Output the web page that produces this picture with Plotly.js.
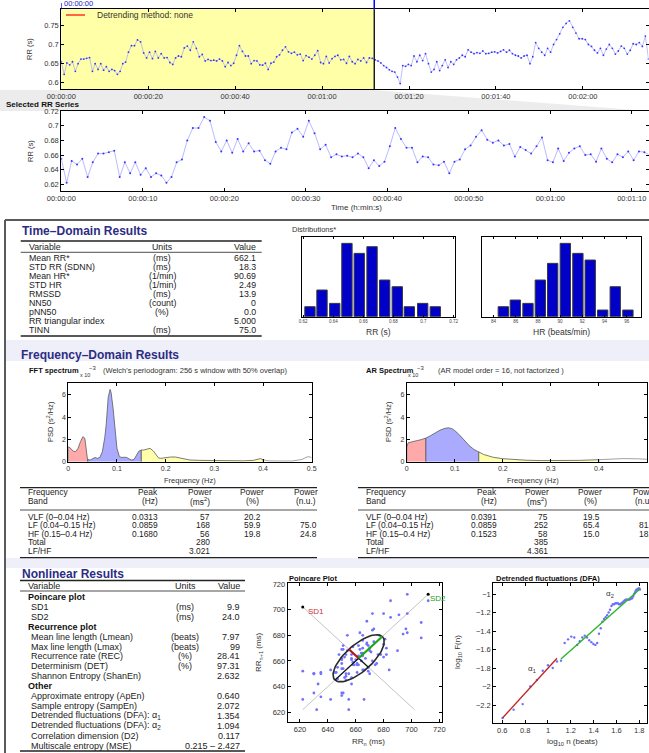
<!DOCTYPE html>
<html>
<head>
<meta charset="utf-8">
<script src="https://cdn.plot.ly/plotly-3.0.1.min.js"></script>
<style>
html,body{margin:0;padding:0;background:#ffffff;overflow:hidden;}
#chart{width:649px;height:753px;}
</style>
</head>
<body>
<div id="chart"></div>
<script>
// ================= DATA =================
const rrSelected = [
 0.655,0.622,0.652,0.647,0.655,0.630,0.650,0.662,0.662,0.664,
 0.666,0.630,0.650,0.635,0.650,0.633,0.642,0.630,0.635,0.632,
 0.622,0.630,0.650,0.654,0.680,0.697,0.697,0.712,0.707,0.678,
 0.665,0.680,0.663,0.682,0.665,0.676,0.665,0.666,0.653,0.648,
 0.665,0.670,0.668,0.691,0.696,0.685,0.707,0.690,0.668,0.674,
 0.657,0.661,0.658,0.659,0.657,0.662,0.657,0.642,0.653,0.645,
 0.651,0.672,0.697,0.682,0.670,0.670,0.650,0.658,0.657,0.647,
 0.646,0.651,0.635,0.651,0.654,0.668,0.673,0.685,0.694,0.681,
 0.677,0.680,0.673,0.675,0.658,0.671,0.667,0.662,0.672,0.684,
 0.653,0.650,0.669,0.652,0.663,0.669,0.672,0.660,0.661,0.651,
 0.669,0.655,0.650,0.661,0.657,0.665,0.653,0.665,0.664,0.660];
const rrRest = [
 0.657,0.652,0.645,0.640,0.634,0.630,0.628,0.615,0.598,0.645,
 0.643,0.648,0.645,0.670,0.655,0.672,0.658,0.676,0.650,0.628,
 0.635,0.655,0.632,0.645,0.660,0.640,0.655,0.648,0.660,0.665,
 0.672,0.668,0.686,0.680,0.676,0.679,0.677,0.683,0.676,0.677,
 0.680,0.681,0.678,0.682,0.686,0.680,0.685,0.676,0.672,0.670,
 0.665,0.670,0.672,0.650,0.668,0.705,0.690,0.680,0.672,0.690,
 0.680,0.700,0.713,0.728,0.745,0.755,0.762,0.745,0.730,0.715,
 0.715,0.713,0.700,0.695,0.685,0.678,0.690,0.672,0.688,0.700,
 0.690,0.675,0.683,0.696,0.690,0.675,0.685,0.702,0.700,0.705,
 0.695,0.722,0.662];
const selectionEnd = 72.0; // seconds
const overviewTickVals = [0,20,40,60,80,100,120];
const overviewTickText = ['00:00:00','00:00:20','00:00:40','00:01:00','00:01:20','00:01:40','00:02:00'];
const overviewYTicks = [0.6,0.65,0.7,0.75];
const overviewYText = ['0.6','0.65','0.7','0.75'];
const selectedTickVals = [0,10,20,30,40,50,60,70];
const selectedTickText = ['00:00:00','00:00:10','00:00:20','00:00:30','00:00:40','00:00:50','00:01:00','00:01:10'];
const selectedYTicks = [0.62,0.64,0.66,0.68,0.70,0.72];
const selectedYText = ['0.62','0.64','0.66','0.68','0.7','0.72'];

const tdVariables = ['Mean RR*','STD RR (SDNN)','Mean HR*','STD HR','RMSSD','NN50','pNN50','RR triangular index','TINN'];
const tdUnits = ['(ms)','(ms)','(1/min)','(1/min)','(ms)','(count)','(%)','','(ms)'];
const tdValues = ['662.1','18.3','90.69','2.49','13.9','0','0.0','5.000','75.0'];

const rrBinCenters = [0.6245,0.6325,0.6410,0.6491,0.6573,0.6658,0.6742,0.6826,0.6906,0.6995,0.7079];
const rrBinCounts = [3,8,4,22,19,21,11,9,3,4,3];
const rrHistTickVals = [0.62,0.64,0.66,0.68,0.70,0.72];
const rrHistTickText = ['0.62','0.64','0.66','0.68','0.7','0.72'];
const hrBinCenters = [84.89,85.97,87.11,88.22,89.33,90.47,91.60,92.71,93.83,94.96,96.10];
const hrBinCounts = [3,5,4,11,16,22,19,17,2,9,2];
const hrHistTickVals = [84,86,88,90,92,94,96];
const hrHistTickText = ['84','86','88','90','92','94','96'];

const fftFreq = [0,0.005,0.01,0.015,0.02,0.025,0.03,0.034,0.037,0.04,
 0.045,0.05,0.055,0.06,0.065,0.07,0.075,0.078,0.082,0.0859,0.088,0.092,0.095,0.1,0.105,
 0.11,0.115,0.12,0.125,0.13,0.135,0.14,0.145,0.15,
 0.155,0.16,0.168,0.175,0.18,0.185,0.19,0.2,0.21,0.22,0.23,0.24,0.25,0.27,0.3,0.33,0.36,0.38,0.39,0.395,0.4,
 0.41,0.43,0.46,0.48,0.49,0.495,0.5];
const fftPsd = [1.35,1.2,0.95,0.9,1.2,1.8,2.25,2.1,1.2,0.2,
 0.15,0.3,0.38,0.3,0.4,0.9,2.2,3.4,5.8,6.5,6.2,4.8,3.4,1.2,0.45,
 0.38,0.4,0.38,0.25,0.15,0.2,0.55,0.95,1.05,
 1.05,1.1,1.2,0.95,0.6,0.35,0.3,0.38,0.42,0.42,0.35,0.22,0.15,0.12,0.1,0.1,0.08,0.12,0.25,0.28,0.18,
 0.08,0.06,0.06,0.2,0.42,0.45,0.35];
const arFreq = [0,0.003,0.01,0.02,0.03,0.04,0.05,0.06,0.07,0.08,0.087,0.095,0.1,0.11,0.12,0.13,0.14,0.15,
 0.16,0.17,0.18,0.2,0.22,0.25,0.28,0.3,0.33,0.36,0.38,0.4,0.42,0.45,0.48,0.5];
const arPsd = [1.3,1.7,1.8,1.88,1.98,2.12,2.35,2.62,2.85,3.0,3.05,2.95,2.8,2.4,1.9,1.45,1.1,0.88,
 0.65,0.5,0.4,0.27,0.2,0.13,0.1,0.09,0.1,0.12,0.15,0.18,0.24,0.28,0.26,0.22];
const bandLimits = [0,0.04,0.15,0.4,0.5];
const bandFill = ['#ffaaaa','#aaaaff','#ffffaa'];
const freqTickVals = [0,0.1,0.2,0.3,0.4,0.5];
const freqTickText = ['0','0.1','0.2','0.3','0.4','0.5'];
const psdTickVals = [0,2,4,6];

const bandNames = ['VLF (0–0.04 Hz)','LF (0.04–0.15 Hz)','HF (0.15–0.4 Hz)','Total','LF/HF'];
const fftPeak = ['0.0313','0.0859','0.1680','',''];
const fftPowerMs2 = ['57','168','56','280','3.021'];
const fftPowerPct = ['20.2','59.9','19.8','',''];
const fftPowerNu = ['','75.0','24.8','',''];
const arPeak = ['0.0391','0.0859','0.1523','',''];
const arPowerMs2 = ['75','252','58','385','4.361'];
const arPowerPct = ['19.5','65.4','15.0','',''];
const arPowerNu = ['','81.3','18.7','',''];

const nlVariables = ['Poincare plot','SD1','SD2','Recurrence plot','Mean line length (Lmean)','Max line length (Lmax)',
 'Recurrence rate (REC)','Determinism (DET)','Shannon Entropy (ShanEn)','Other','Approximate entropy (ApEn)',
 'Sample entropy (SampEn)','Detrended fluctuations (DFA): α<sub>1</sub>','Detrended fluctuations (DFA): α<sub>2</sub>',
 'Correlation dimension (D2)','Multiscale entropy (MSE)'];
const nlUnits = ['','(ms)','(ms)','','(beats)','(beats)','(%)','(%)','','','','','','','',''];
const nlValues = ['','9.9','24.0','','7.97','99','28.41','97.31','2.632','','0.640','2.072','1.354','1.094','0.117','0.215 – 2.427'];
const nlGroupRows = [0,3,9];

const meanRRms = 662.1, sd1 = 9.9, sd2 = 24.0;
const poincareTicks = [620,640,660,680,700,720];

const dfaN = [4,5,6,7,8,9,10,11,12,13,14,15,16,17,18,19,20,21,22,23,24,25,26,27,28,29,30,31,32,33,34,
 35,36,37,38,39,40,41,42,43,44,45,46,47,48,49,50,51,52,53,54,55,56,57,58,59,60,61,62,63,64];
const dfaLogF = [-2.34,-2.25,-2.19,-2.00,-1.93,-1.83,-1.77,-1.80,-1.73,-1.72,-1.53,-1.49,-1.46,-1.47,-1.55,
 -1.51,-1.47,-1.45,-1.47,-1.50,-1.52,-1.54,-1.55,-1.53,-1.43,-1.37,-1.30,-1.27,-1.25,-1.23,-1.20,
 -1.17,-1.13,-1.11,-1.11,-1.10,-1.10,-1.10,-1.11,-1.11,-1.10,-1.09,-1.08,-1.07,-1.06,-1.06,-1.06,
 -1.06,-1.06,-1.05,-1.05,-1.04,-1.02,-1.00,-0.98,-0.96,-0.95,-0.95,-0.94,-0.94,-0.95];
const dfaAlpha1 = 1.354, dfaAlpha2 = 1.094;
const dfaIntercept1 = -3.155, dfaIntercept2 = -2.921;
const dfaShortRange = [4,12], dfaLongRange = [13,64];
const dfaXTicks = [0.6,0.8,1,1.2,1.4,1.6,1.8];
const dfaXText = ['0.6','0.8','1','1.2','1.4','1.6','1.8'];
const dfaYTicks = [-2.2,-2,-1.8,-1.6,-1.4,-1.2,-1];
const dfaYText = ['−2.2','−2','−1.8','−1.6','−1.4','−1.2','−1'];

// ================= HELPERS =================
const W = 649, H = 753;
const F = 'Liberation Sans, Arial, Helvetica, sans-serif';
const NAVY = '#2c2c84';
const TXT = '#222';
const xd = (a,b) => [a/W, b/W];
const yd = (top,bot) => [1-bot/H, 1-top/H];
const ann = [], shp = [];
function T(x, y, text, o) {
  o = o || {};
  if (text === '' || text == null) return;
  ann.push({xref:'paper', yref:'paper', x:x/W, y:1-y/H, text: o.bold ? '<b>'+text+'</b>' : text,
    showarrow:false, xanchor:o.anchor||'left', yanchor:'middle', textangle:o.angle||0, borderpad:0,
    font:{family:F, size:o.size||9, color:o.color||TXT}});
}
function L(x0,y0,x1,y1,color,width){
  shp.push({type:'line', xref:'paper', yref:'paper', x0:x0/W, y0:1-y0/H, x1:x1/W, y1:1-y1/H,
    line:{color:color||'#000', width:width||1}});
}
function R(x0,y0,x1,y1,fill){
  shp.push({type:'rect', xref:'paper', yref:'paper', x0:x0/W, y0:1-y0/H, x1:x1/W, y1:1-y1/H,
    fillcolor:fill, line:{width:0}, layer:'below'});
}
function axis(o){
  return Object.assign({showline:true, linecolor:'#000', linewidth:1, mirror:'allticks', ticks:'inside',
    ticklen:3, tickwidth:1, tickcolor:'#000', showgrid:false, zeroline:false, fixedrange:true,
    automargin:false, tickmode:'array', tickfont:{family:F, size:7.5, color:'#333'}}, o);
}

// ================= TRACES =================
const rrAll = rrSelected.concat(rrRest);
const tAll = []; let acc = 0;
for (const r of rrAll) { tAll.push(acc); acc += r; }
const tSel = tAll.slice(0, rrSelected.length);

const traces = [];
traces.push({type:'scatter', mode:'lines+markers', x:tAll, y:rrAll, xaxis:'x', yaxis:'y',
  line:{color:'#a3a3f5', width:0.7}, marker:{size:1.8, color:'#3535ff'}, hoverinfo:'skip'});
traces.push({type:'scatter', mode:'lines+markers', x:tSel, y:rrSelected, xaxis:'x2', yaxis:'y2',
  line:{color:'#a8a8ff', width:0.8}, marker:{size:2, color:'#3535ff'}, hoverinfo:'skip'});

// histograms
traces.push({type:'bar', x:rrBinCenters, y:rrBinCounts, xaxis:'x3', yaxis:'y3',
  marker:{color:'#0000c8', line:{color:'#3a3a3a', width:1}}, hoverinfo:'skip'});
traces.push({type:'bar', x:hrBinCenters, y:hrBinCounts, xaxis:'x4', yaxis:'y4',
  marker:{color:'#0000c8', line:{color:'#3a3a3a', width:1}}, hoverinfo:'skip'});

// spectra
function bandTraces(freq, psd, xa, ya) {
  for (let b = 0; b < 4; b++) {
    const lo = bandLimits[b], hi = bandLimits[b+1];
    const xs = [], ys = [];
    if (b < 3) { xs.push(lo); ys.push(0); }
    for (let i = 0; i < freq.length; i++) if (freq[i] >= lo && freq[i] <= hi) { xs.push(freq[i]); ys.push(psd[i]); }
    if (b < 3) { xs.push(hi); ys.push(0); }
    if (b < 3) {
      traces.push({type:'scatter', mode:'lines', x:xs, y:ys, xaxis:xa, yaxis:ya, fill:'toself',
        fillcolor:bandFill[b], line:{color:'#5a5a5a', width:0.8}, hoverinfo:'skip'});
    } else {
      traces.push({type:'scatter', mode:'lines', x:xs, y:ys, xaxis:xa, yaxis:ya,
        line:{color:'#8a8a8a', width:0.8}, hoverinfo:'skip'});
    }
  }
}
bandTraces(fftFreq, fftPsd, 'x5', 'y5');
bandTraces(arFreq, arPsd, 'x6', 'y6');

// Poincare
const pX = rrSelected.slice(0,-1).map(v => v*1000);
const pY = rrSelected.slice(1).map(v => v*1000);
const rrMin = Math.min(...rrSelected)*1000, rrMax = Math.max(...rrSelected)*1000;
const c = meanRRms, s2 = Math.SQRT1_2;
traces.push({type:'scatter', mode:'lines', x:[rrMin, rrMax], y:[rrMin, rrMax], xaxis:'x7', yaxis:'y7',
  line:{color:'#c4c4c4', width:1}, hoverinfo:'skip'});
traces.push({type:'scatter', mode:'lines', x:[rrMin, 2*c-rrMin], y:[2*c-rrMin, rrMin], xaxis:'x7', yaxis:'y7',
  line:{color:'#c4c4c4', width:1}, hoverinfo:'skip'});
traces.push({type:'scatter', mode:'markers', x:pX, y:pY, xaxis:'x7', yaxis:'y7',
  marker:{size:2.8, color:'#7272ff'}, hoverinfo:'skip'});
const ex = [], ey = [];
for (let k = 0; k <= 72; k++) {
  const t = 2*Math.PI*k/72, u = sd2*Math.cos(t), v = sd1*Math.sin(t);
  ex.push(c + (u - v)*s2); ey.push(c + (u + v)*s2);
}
traces.push({type:'scatter', mode:'lines', x:ex, y:ey, xaxis:'x7', yaxis:'y7',
  line:{color:'#2a2a2a', width:1.6}, hoverinfo:'skip'});
traces.push({type:'scatter', mode:'lines', x:[c-sd2*s2, c], y:[c-sd2*s2, c], xaxis:'x7', yaxis:'y7',
  line:{color:'#111', width:1.2}, hoverinfo:'skip'});
traces.push({type:'scatter', mode:'lines', x:[c, c+sd1*s2], y:[c, c-sd1*s2], xaxis:'x7', yaxis:'y7',
  line:{color:'#111', width:1.2}, hoverinfo:'skip'});
traces.push({type:'scatter', mode:'lines', x:[c, c-sd1*s2], y:[c, c+sd1*s2], xaxis:'x7', yaxis:'y7',
  line:{color:'#b01818', width:2.2}, hoverinfo:'skip'});
traces.push({type:'scatter', mode:'lines', x:[c, c+sd2*s2], y:[c, c+sd2*s2], xaxis:'x7', yaxis:'y7',
  line:{color:'#18a818', width:2.2}, hoverinfo:'skip'});
traces.push({type:'scatter', mode:'markers', x:[rrMin, rrMax], y:[2*c-rrMin, rrMax], xaxis:'x7', yaxis:'y7',
  marker:{size:3, color:'#000'}, hoverinfo:'skip'});

// DFA
const dfaLogN = dfaN.map(n => Math.log10(n));
traces.push({type:'scatter', mode:'markers', x:dfaLogN, y:dfaLogF, xaxis:'x8', yaxis:'y8',
  marker:{size:2.4, color:'#6e6eff'}, hoverinfo:'skip'});
const l1 = dfaShortRange.map(n => Math.log10(n)), l2 = dfaLongRange.map(n => Math.log10(n));
traces.push({type:'scatter', mode:'lines', x:l1, y:l1.map(v => dfaIntercept1 + dfaAlpha1*v), xaxis:'x8', yaxis:'y8',
  line:{color:'#c02828', width:1.4}, hoverinfo:'skip'});
traces.push({type:'scatter', mode:'lines', x:l2, y:l2.map(v => dfaIntercept2 + dfaAlpha2*v), xaxis:'x8', yaxis:'y8',
  line:{color:'#2ab52a', width:1.4}, hoverinfo:'skip'});

// ================= LAYOUT =================
const ovL = 61.3, ovR = 648.5, ovRange = [0, 135.1];
const selPx = ovL + (selectionEnd - ovRange[0])/(ovRange[1]-ovRange[0])*(ovR-ovL);

// gray zoom wedge between the two RR plots
shp.push({type:'path', xref:'paper', yref:'paper', layer:'below', fillcolor:'#ececec', line:{width:0},
  path:`M 0 ${1-90/H} L ${selPx/W} ${1-90/H} L ${648/W} ${1-111/H} L 0 ${1-111/H} Z`});
// yellow selection
shp.push({type:'rect', xref:'x', yref:'y domain', x0:0, x1:selectionEnd, y0:0, y1:1,
  fillcolor:'#ffffa8', line:{width:0}, layer:'below'});
shp.push({type:'line', xref:'x', yref:'y domain', x0:selectionEnd, x1:selectionEnd, y0:0, y1:1,
  line:{color:'#000', width:1.3}});
shp.push({type:'line', xref:'x', yref:'paper', x0:selectionEnd, x1:selectionEnd, y0:1-9.3/H, y1:1,
  line:{color:'#0000ff', width:1.5}});
shp.push({type:'line', xref:'x', yref:'paper', x0:0, x1:0, y0:1-9.3/H, y1:1-3/H,
  line:{color:'#0000ff', width:1.2}});
T(63, 3.5, '00:00:00', {size:7.5, color:'#2020c0'});
// legend
L(66, 15, 85, 15, '#ff0000', 1.2);
T(96, 15, 'Detrending method: none', {size:8.5, color:'#333'});
T(30, 49, 'RR (s)', {angle:-90, anchor:'center', size:7.5, color:'#333'});
T(5, 104.5, 'Selected RR Series', {bold:true, size:8, color:'#111'});
T(30, 151, 'RR (s)', {angle:-90, anchor:'center', size:7.5, color:'#333'});
T(356, 207.5, 'Time (h:min:s)', {anchor:'center', size:8, color:'#333'});

// section frames
L(5, 220, 649, 220, '#5a5a5a', 2);
L(5, 220, 5, 753, '#5a5a5a', 2);
R(6, 340, 649, 361, '#efeff9');
R(6, 558, 649, 568, '#efeff9');

// ---- Time-domain ----
T(20.7, 231.5, 'Time–Domain Results', {bold:true, size:12, color:NAVY});
L(20.7, 241, 261.7, 241, '#222', 1.3);
T(28, 247, 'Variable', {size:8.8}); T(162, 247, 'Units', {anchor:'center', size:8.8}); T(257, 247, 'Value', {anchor:'right', size:8.8});
L(20.7, 252.3, 261.7, 252.3, '#222', 0.8);
tdVariables.forEach((v,i) => {
  const y = 258.3 + 9*i;
  T(28, y, v, {size:8.8}); T(162, y, tdUnits[i], {anchor:'center', size:8.8}); T(257, y, tdValues[i], {anchor:'right', size:8.8});
});
L(20.7, 336, 261.7, 336, '#222', 1.3);
T(291, 230, 'Distributions*', {size:7.5, color:'#333'});
T(378, 331.5, 'RR (s)', {anchor:'center', size:8.5, color:'#333'});
T(561, 331.5, 'HR (beats/min)', {anchor:'center', size:8.5, color:'#333'});

// ---- Frequency-domain ----
T(20, 355, 'Frequency–Domain Results', {bold:true, size:12, color:NAVY});
T(28, 370, 'FFT spectrum', {bold:true, size:7.5, color:'#111'});
T(79, 374.5, 'x 10', {size:5.5, color:'#333'});
T(88, 367.5, '−3', {size:6, color:'#333'});
T(102, 370, "(Welch's periodogram: 256 s window with 50% overlap)", {size:7.5, color:'#333'});
T(50, 422, 'PSD (s<sup>2</sup>/Hz)', {angle:-90, anchor:'center', size:7.5, color:'#333'});
T(190, 480, 'Frequency (Hz)', {anchor:'center', size:7.5, color:'#333'});
T(365, 370, 'AR Spectrum', {bold:true, size:7.5, color:'#111'});
T(407, 374.5, 'x 10', {size:5.5, color:'#333'});
T(416, 367.5, '−3', {size:6, color:'#333'});
T(437, 370, '(AR model order = 16, not factorized )', {size:7.5, color:'#333'});
T(388, 422, 'PSD (s<sup>2</sup>/Hz)', {angle:-90, anchor:'center', size:7.5, color:'#333'});
T(533, 480, 'Frequency (Hz)', {anchor:'center', size:7.5, color:'#333'});

function freqTable(x0, x1, cols, peak, pow, pct, nu) {
  const hs = 8.4, rs = 8.4;
  L(x0, 487.7, x1, 487.7, '#222', 1.3);
  T(cols[0], 492, 'Frequency', {size:hs}); T(cols[0], 500.5, 'Band', {size:hs});
  T(cols[1], 492, 'Peak', {anchor:'right', size:hs}); T(cols[1], 500.5, '(Hz)', {anchor:'right', size:hs});
  T(cols[2], 492, 'Power', {anchor:'center', size:hs}); T(cols[2], 501.5, '(ms<sup>2</sup>)', {anchor:'center', size:hs});
  T(cols[4], 492, 'Power', {anchor:'center', size:hs}); T(cols[4], 500.5, '(%)', {anchor:'center', size:hs});
  T(cols[6], 492, 'Power', {anchor:'center', size:hs}); T(cols[6], 500.5, '(n.u.)', {anchor:'center', size:hs});
  L(x0, 510, x1, 510, '#222', 0.8);
  bandNames.forEach((b,i) => {
    const y = 516.7 + 8.5*i;
    T(cols[0], y, b, {size:rs}); T(cols[1], y, peak[i], {anchor:'right', size:rs});
    T(cols[3], y, pow[i], {anchor:'right', size:rs}); T(cols[5], y, pct[i], {anchor:'right', size:rs});
    T(cols[7], y, nu[i], {anchor:'right', size:rs});
  });
  L(x0, 557.7, x1, 557.7, '#222', 1.3);
}
freqTable(20, 317, [26.7, 159, 200, 211, 252, 262, 306, 318], fftPeak, fftPowerMs2, fftPowerPct, fftPowerNu);
freqTable(358, 649, [365, 497.7, 537, 549, 590, 600.7, 645, 657], arPeak, arPowerMs2, arPowerPct, arPowerNu);

// ---- Nonlinear ----
T(20.7, 574, 'Nonlinear Results', {bold:true, size:12, color:NAVY});
L(20, 580.5, 245, 580.5, '#222', 1.3);
T(26.7, 586, 'Variable'); T(185, 586, 'Units', {anchor:'center'}); T(241, 586, 'Value', {anchor:'right'});
L(20, 591, 245, 591, '#222', 0.8);
nlVariables.forEach((v,i) => {
  const y = 597 + 9.9*i;
  const grp = nlGroupRows.indexOf(i) >= 0;
  T(grp ? 26.7 : 30, y, v, {bold:grp, color: grp ? '#111' : TXT});
  T(185, y, nlUnits[i], {anchor:'center'});
  T(241, y, nlValues[i], {anchor:'right'});
});
L(20, 751, 245, 751, '#222', 1.3);
T(288.3, 578.3, 'Poincare Plot', {bold:true, size:7.5, color:'#111'});
T(368, 742, 'RR<sub>n</sub> (ms)', {anchor:'center', size:8, color:'#333'});
T(259, 652, 'RR<sub>n+1</sub> (ms)', {angle:-90, anchor:'center', size:8, color:'#333'});
T(495, 578.3, 'Detrended fluctuations (DFA)', {bold:true, size:7.5, color:'#111'});
T(572, 742, 'log<sub>10</sub> n (beats)', {anchor:'center', size:8, color:'#333'});
T(458, 652, 'log<sub>10</sub> F(n)', {angle:-90, anchor:'center', size:8, color:'#333'});

ann.push({xref:'x7', yref:'y7', x:624.5, y:698.5, text:'SD1', showarrow:false, xanchor:'left', yanchor:'middle',
  font:{family:F, size:8, color:'#c83232'}});
ann.push({xref:'x7', yref:'y7', x:712, y:708.5, text:'SD2', showarrow:false, xanchor:'left', yanchor:'middle',
  font:{family:F, size:8, color:'#22a022'}});
ann.push({xref:'x8', yref:'y8', x:0.86, y:-1.81, text:'α<sub>1</sub>', showarrow:false, xanchor:'center', yanchor:'middle',
  font:{family:F, size:8, color:'#333'}});
ann.push({xref:'x8', yref:'y8', x:1.545, y:-1.0, text:'α<sub>2</sub>', showarrow:false, xanchor:'center', yanchor:'middle',
  font:{family:F, size:8, color:'#333'}});

const small = {family:F, size:4.5, color:'#444'};
const fsz = {family:F, size:7, color:'#333'};
const layout = {
  width:W, height:H, margin:{l:0,r:0,t:0,b:0,pad:0}, showlegend:false,
  paper_bgcolor:'#ffffff', plot_bgcolor:'#ffffff', bargap:0.14, dragmode:false, hovermode:false,
  xaxis: axis({domain:xd(ovL,ovR), anchor:'y', range:ovRange, tickvals:overviewTickVals, ticktext:overviewTickText}),
  yaxis: axis({domain:yd(9.3,89.3), anchor:'x', range:[0.583,0.792], tickvals:overviewYTicks, ticktext:overviewYText}),
  xaxis2: axis({domain:xd(ovL,ovR), anchor:'y2', range:[0,72.05], tickvals:selectedTickVals, ticktext:selectedTickText}),
  yaxis2: axis({domain:yd(111,190.7), anchor:'x2', range:[0.6112,0.7203], tickvals:selectedYTicks, ticktext:selectedYText}),
  xaxis3: axis({domain:xd(301.7,455), anchor:'y3', range:[0.619,0.721], tickvals:rrHistTickVals, ticktext:rrHistTickText, tickfont:small, ticklen:2}),
  yaxis3: axis({domain:yd(236.7,316.7), anchor:'x3', range:[0,24], ticks:'', showticklabels:false, mirror:true}),
  xaxis4: axis({domain:xd(482.3,640.7), anchor:'y4', range:[83.0,97.25], tickvals:hrHistTickVals, ticktext:hrHistTickText, tickfont:small, ticklen:2}),
  yaxis4: axis({domain:yd(236.7,316.7), anchor:'x4', range:[0,24], ticks:'', showticklabels:false, mirror:true}),
  xaxis5: axis({domain:xd(68.3,311.7), anchor:'y5', range:[0,0.5], tickvals:freqTickVals, ticktext:freqTickText, tickfont:fsz}),
  yaxis5: axis({domain:yd(382.7,461.7), anchor:'x5', range:[0,7.1], tickvals:psdTickVals, ticktext:psdTickVals.map(String), tickfont:fsz}),
  xaxis6: axis({domain:xd(406.7,646.9), anchor:'y6', range:[0,0.5], tickvals:freqTickVals, ticktext:freqTickText, tickfont:fsz}),
  yaxis6: axis({domain:yd(382.7,461.7), anchor:'x6', range:[0,7.1], tickvals:psdTickVals, ticktext:psdTickVals.map(String), tickfont:fsz}),
  xaxis7: axis({domain:xd(287.7,441.7), anchor:'y7', range:[611.2,721.7], tickvals:poincareTicks, ticktext:poincareTicks.map(String)}),
  yaxis7: axis({domain:yd(583.3,721.7), anchor:'x7', range:[612.6,720.6], tickvals:poincareTicks, ticktext:poincareTicks.map(String)}),
  xaxis8: axis({domain:xd(493.3,646.7), anchor:'y8', range:[0.521,1.865], tickvals:dfaXTicks, ticktext:dfaXText}),
  yaxis8: axis({domain:yd(583.3,722.7), anchor:'x8', range:[-2.391,-0.884], tickvals:dfaYTicks, ticktext:dfaYText}),
  shapes: shp, annotations: ann
};
Plotly.newPlot('chart', traces, layout, {staticPlot:true, displayModeBar:false});
</script>
</body>
</html>
